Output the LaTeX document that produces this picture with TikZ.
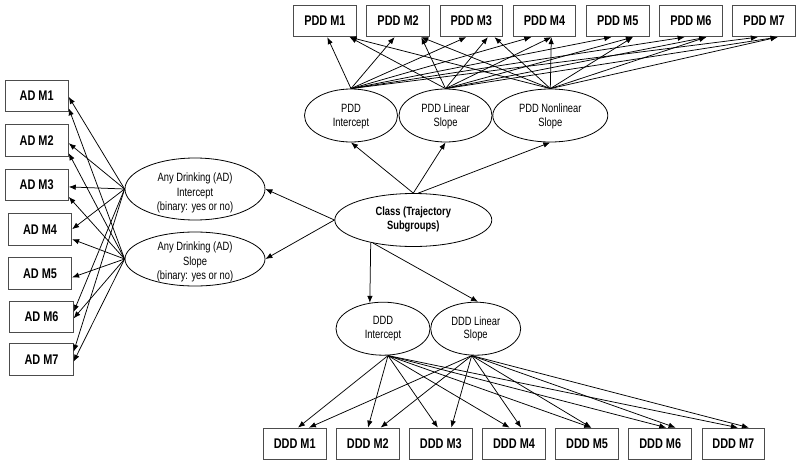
\documentclass[tikz,border=0pt]{standalone}
\usepackage{fontspec}
\setmainfont{Liberation Sans}[FakeStretch=0.78]
\usetikzlibrary{shapes.geometric,arrows.meta}
\begin{document}
\begin{tikzpicture}[x=1pt,y=-1pt,
  box/.style={draw=black!70,line width=0.9pt,minimum width=62.7pt,minimum height=31.4pt,inner sep=0pt,font=\fontsize{14}{16}\selectfont\bfseries},
  ell/.style={draw,ellipse,line width=0.8pt,inner sep=0pt},
  etxt/.style={align=center,inner sep=0pt,font=\fontsize{12}{13.5}\selectfont},
  adtxt/.style={align=center,inner sep=0pt,font=\fontsize{12}{14.5}\selectfont},
  ctxt/.style={align=center,inner sep=0pt,font=\fontsize{12}{13.5}\selectfont\bfseries},
  arr/.style={line width=0.75pt,-{Latex[length=7pt,width=5.5pt]}}]
\fill[white] (0,0) rectangle (800,466);
\useasboundingbox (0,0) rectangle (800,466);

% PDD boxes
\node[box] (p1) at (324.9,21) {PDD M1};
\node[box] (p2) at (398.1,21) {PDD M2};
\node[box] (p3) at (471.3,21) {PDD M3};
\node[box] (p4) at (544.5,21) {PDD M4};
\node[box] (p5) at (617.7,21) {PDD M5};
\node[box] (p6) at (690.9,21) {PDD M6};
\node[box] (p7) at (764.1,21) {PDD M7};

% DDD boxes
\node[box] (d1) at (294.7,443.8) {DDD M1};
\node[box] (d2) at (367.8,443.8) {DDD M2};
\node[box] (d3) at (440.9,443.8) {DDD M3};
\node[box] (d4) at (514.0,443.8) {DDD M4};
\node[box] (d5) at (587.1,443.8) {DDD M5};
\node[box] (d6) at (660.2,443.8) {DDD M6};
\node[box] (d7) at (733.3,443.8) {DDD M7};

% AD boxes
\node[box,minimum width=63.3pt,minimum height=31.7pt] (a1) at (36.65,95.9) {AD M1};
\node[box,minimum width=63.3pt,minimum height=31.7pt] (a2) at (36.65,140.2) {AD M2};
\node[box,minimum width=63.3pt,minimum height=31.7pt] (a3) at (36.65,184.9) {AD M3};
\node[box,minimum width=63.3pt,minimum height=31.7pt] (a4) at (40,229.2) {AD M4};
\node[box,minimum width=63.3pt,minimum height=31.7pt] (a5) at (40,273.4) {AD M5};
\node[box,minimum width=63.3pt,minimum height=31.7pt] (a6) at (41.5,316.9) {AD M6};
\node[box,minimum width=63.3pt,minimum height=31.7pt] (a7) at (41.5,359.2) {AD M7};

% ellipses
\node[ell,minimum width=93pt,minimum height=53pt] (pint) at (351,115.5) {};
\node[ell,minimum width=93pt,minimum height=53pt] (plin) at (445.5,115.5) {};
\node[ell,minimum width=115pt,minimum height=53pt] (pnon) at (550.3,115.5) {};
\node[etxt] (pint-t) at (351,116.5) {PDD\\Intercept};
\node[etxt] (plin-t) at (445.5,116.5) {PDD Linear\\Slope};
\node[etxt] (pnon-t) at (550.3,116.5) {PDD Nonlinear\\Slope};

\node[ell,minimum width=94pt,minimum height=53pt] (dint) at (383,328.7) {};
\node[ell,minimum width=90pt,minimum height=53pt] (dlin) at (475.7,328.7) {};
\node[etxt] (dint-t) at (383,328.7) {DDD\\Intercept};
\node[etxt] (dlin-t) at (475.7,328.7) {DDD Linear\\Slope};

\node[ell,minimum width=157pt,minimum height=53pt] (cls) at (413.3,220) {};
\node[ctxt] (cls-t) at (413.3,219.5) {Class (Trajectory\\Subgroups)};

\node[ell,minimum width=140pt,minimum height=62pt] (adi) at (195,189) {};
\node[ell,minimum width=140pt,minimum height=54pt] (ads) at (195,259) {};
\node[adtxt] (adi-t) at (195,193) {Any Drinking (AD)\\Intercept\\(binary: yes or no)};
\node[adtxt] (ads-t) at (195,262) {Any Drinking (AD)\\Slope\\(binary: yes or no)};

% PDD arrows
\foreach \b/\a/\c/\d in {1/34.2/56.5/56.5, 2/28.3/55/55, 3/26.8/48.4/55, 4/18.6/38.6/38.6, 5/25.4/47/47, 6/25.5/47.2/47.2, 7/25.6/45.3/45.3} {
  \draw[arr] (pint.north) -- ([xshift=\a pt]p\b.south west);
  \draw[arr] (plin.north) -- ([xshift=\c pt]p\b.south west);
  \draw[arr] (pnon.north) -- ([xshift=\d pt]p\b.south west);
}

% DDD arrows
\foreach \b/\a/\c in {1/35/46, 2/32/44.6, 3/28.8/42.2, 4/27.4/39, 5/36/36, 6/37.9/47.2, 7/36.4/47.4} {
  \draw[arr] ([xshift=5pt]dint.south) -- ([xshift=\a pt]d\b.north west);
  \draw[arr] ([xshift=-4pt]dlin.south) -- ([xshift=\c pt]d\b.north west);
}

% AD arrows
\foreach \b/\a/\c in {1/-1/-12.4, 2/-3/-13, 3/-2/-12, 4/0/-10, 6/5/-1.5, 7/7.5/-2.5} {
  \draw[arr] (adi.west) -- ([yshift=\a pt]a\b.east);
  \draw[arr] (ads.west) -- ([yshift=\c pt]a\b.east);
}
\draw[arr] (ads.west) -- ([yshift=-4pt]a5.east);

% Class arrows
\draw[arr] (cls.west) -- (adi.east);
\draw[arr] (cls.west) -- (ads.east);
\draw[arr] (cls.north) -- (pint.south);
\draw[arr] (cls.north) -- (plin.south);
\draw[arr] ([xshift=5pt]cls.north) -- (pnon.south);
\draw[arr] (cls.208) -- (dint.117);
\draw[arr] (cls.210) -- (dlin.85);
\end{tikzpicture}
\end{document}
